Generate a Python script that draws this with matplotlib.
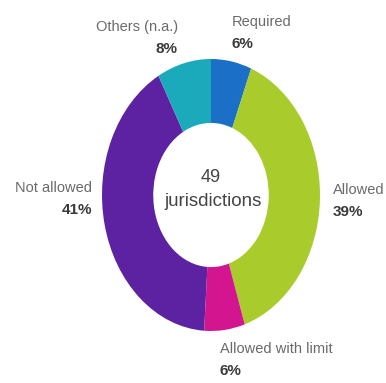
import matplotlib.pyplot as plt

# Share of jurisdictions, clockwise from the top
labels = ["Required", "Allowed", "Allowed with limit", "Not allowed", "Others (n.a.)"]
shares = [6, 39, 6, 41, 8]
colors = ["#1b6fc6", "#a9cc2c", "#d3168f", "#5c22a2", "#1aaabb"]
total_text = ["49", "jurisdictions"]

W, H = 386, 383
fig = plt.figure(figsize=(W / 100, H / 100), dpi=100)
plt.rcParams["font.family"] = ["Liberation Sans", "DejaVu Sans"]

# Donut is slightly taller than wide in the reference
cx, cy, rx, ry = 211, 195, 109, 136
ax = fig.add_axes([(cx - rx) / W, (H - cy - ry) / H, 2 * rx / W, 2 * ry / H])
ax.pie(shares, colors=colors, startangle=90, counterclock=False,
       radius=1, wedgeprops=dict(width=0.47, linewidth=0))
ax.set_aspect("auto")
ax.set_xlim(-1, 1)
ax.set_ylim(-1, 1)
ax.axis("off")

# Centre text
fig.text(211 / W, 1 - 178 / H, total_text[0], ha="center", va="center",
         fontsize=13, color="#444444")
fig.text(213 / W, 1 - 202 / H, total_text[1], ha="center", va="center",
         fontsize=13.5, color="#444444")

# Label positions (pixels) and alignment per slice
label_pos = [(232, 22, "left"), (333, 190, "left"), (220, 349, "left"),
             (92, 188, "right"), (178, 27, "right")]
for lab, val, (x, y, ha) in zip(labels, shares, label_pos):
    fig.text(x / W, 1 - y / H, lab, ha=ha, va="center", fontsize=10.5,
             color="#6a6a6a")
    fig.text(x / W, 1 - (y + 22) / H, f"{val}%", ha=ha, va="center",
             fontsize=11, color="#3a3a3a", fontweight="bold")

fig.savefig("out.png", dpi=100)
